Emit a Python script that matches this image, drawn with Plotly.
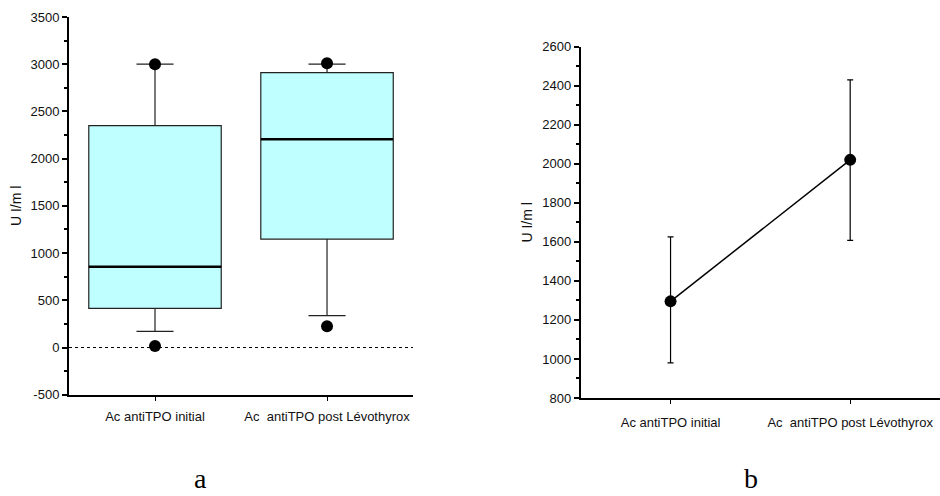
import plotly.graph_objects as go

# ---- data ----
categories = ["Ac antiTPO initial", "Ac  antiTPO post Lévothyrox"]
box_q1 = [415, 1148]
box_median = [855, 2206]
box_q3 = [2350, 2912]
box_low = [171, 337]
box_high = [3000, 3000]
outlier_cat = [0, 0, 1, 1]
outlier_val = [3000, 16, 3010, 224]
left_ticks = [-500, 0, 500, 1000, 1500, 2000, 2500, 3000, 3500]

mean_vals = [1295, 2020]
err_plus = [330, 410]
err_minus = [315, 412]

FONT = "Liberation Sans, Arial, sans-serif"
SERIF = "Liberation Serif, Times New Roman, serif"
BOXW = 0.77
xs = list(range(len(categories)))

fig = go.Figure()

# panel a: box plot
fig.add_trace(go.Box(
    x=xs, q1=box_q1, median=box_median, q3=box_q3,
    lowerfence=box_low, upperfence=box_high,
    width=BOXW, whiskerwidth=0.28, boxpoints=False,
    fillcolor="#C0FFFF", line=dict(color="#222222", width=1.2),
    xaxis="x", yaxis="y", hoverinfo="skip"))

mx, my = [], []
for i, m in zip(xs, box_median):
    mx += [i - BOXW / 2, i + BOXW / 2, None]
    my += [m, m, None]
fig.add_trace(go.Scatter(x=mx, y=my, mode="lines",
                         line=dict(color="black", width=2.5),
                         xaxis="x", yaxis="y", hoverinfo="skip"))

fig.add_trace(go.Scatter(x=outlier_cat, y=outlier_val, mode="markers",
                         marker=dict(color="black", size=12),
                         xaxis="x", yaxis="y"))

# panel b: mean with error bars
fig.add_trace(go.Scatter(
    x=xs, y=mean_vals, mode="lines+markers",
    line=dict(color="black", width=1.5),
    marker=dict(color="black", size=12),
    error_y=dict(type="data", array=err_plus, arrayminus=err_minus,
                 color="black", thickness=1.2, width=3),
    xaxis="x2", yaxis="y2"))

axis_common = dict(showline=True, linecolor="black", showgrid=False,
                   zeroline=False, ticks="outside", tickcolor="black",
                   automargin=False,
                   tickfont=dict(family=FONT, size=13, color="#111"))
title_font = dict(family=FONT, size=14, color="#111")

fig.update_layout(
    width=940, height=496,
    margin=dict(l=0, r=0, t=0, b=0, autoexpand=False),
    paper_bgcolor="white", plot_bgcolor="white",
    showlegend=False,
    xaxis=dict(domain=[0.0734, 0.4394], range=[-0.5, 1.5],
               tickvals=xs, ticktext=categories, linewidth=2,
               ticklen=4, tickwidth=1, ticklabelstandoff=5,
               anchor="y", **axis_common),
    yaxis=dict(domain=[0.2042, 0.9657], range=[-500, 3500],
               tickvals=left_ticks, ticktext=[str(v) for v in left_ticks],
               linewidth=2, ticklen=5, tickwidth=2,
               minor=dict(ticks="outside", ticklen=3, dtick=250, tickcolor="black", tickwidth=1.5),
               title=dict(text="U I/m l", font=title_font, standoff=6),
               anchor="x", **axis_common),
    xaxis2=dict(domain=[0.6178, 1.0], range=[-0.5, 1.5],
                tickvals=xs, ticktext=categories, linewidth=2,
                ticklen=4, tickwidth=1, ticklabelstandoff=7,
                anchor="y2", **axis_common),
    yaxis2=dict(domain=[0.1976, 0.9059], range=[800, 2600], dtick=200,
                linewidth=2, ticklen=5, tickwidth=2,
                minor=dict(ticks="outside", ticklen=3, dtick=100, tickcolor="black", tickwidth=1.5),
                title=dict(text="U I/m l", font=title_font, standoff=6),
                anchor="x2", **axis_common),
    shapes=[dict(type="line", xref="x domain", yref="y", x0=0, x1=1, y0=0, y1=0,
                 line=dict(color="black", width=1, dash="dot"))],
    annotations=[
        dict(text="a", x=0.2043, y=0.0, yanchor="bottom", xref="paper", yref="paper",
             showarrow=False, font=dict(family=SERIF, size=28, color="black")),
        dict(text="b", x=0.8085, y=0.0, yanchor="bottom", xref="paper", yref="paper",
             showarrow=False, font=dict(family=SERIF, size=28, color="black")),
    ],
)

fig.write_html("out.html",
               config={"displayModeBar": False},
               post_script="document.body.style.margin='0';document.body.style.overflow='hidden';")
